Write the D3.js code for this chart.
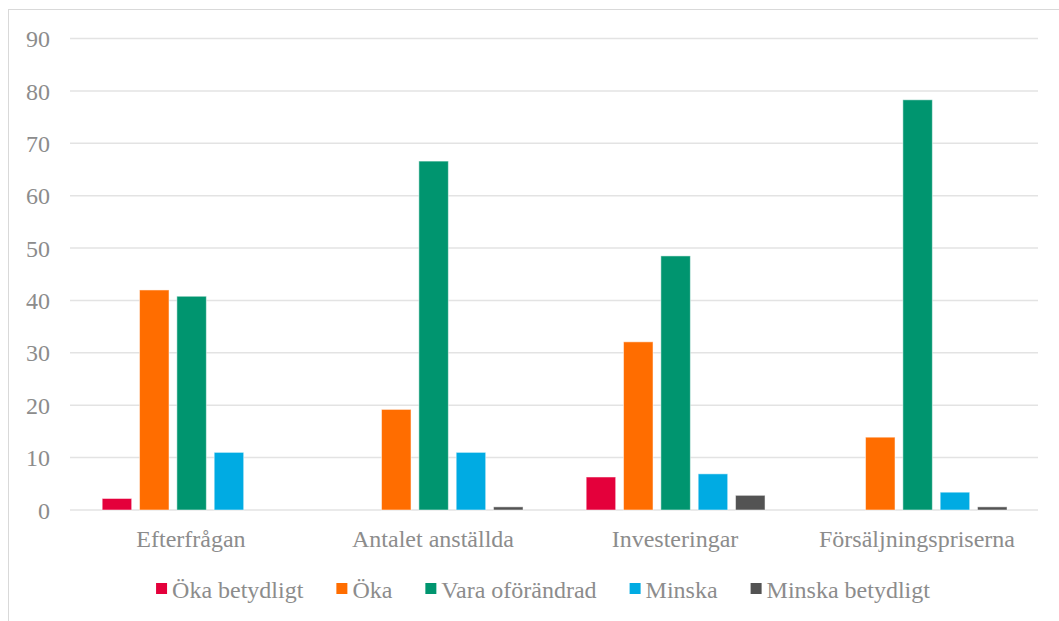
<!DOCTYPE html>
<html>
<head>
<meta charset="utf-8">
<script src="https://cdn.jsdelivr.net/npm/d3@7"></script>
<style>
  body { margin: 0; background: #fff; }
  text { font-family: "Liberation Serif", "Times New Roman", serif; fill: #8c8c8c; }
</style>
</head>
<body>
<svg id="chart" width="1059" height="621"></svg>
<script>
const categories = ['Efterfrågan', 'Antalet anställda', 'Investeringar', 'Försäljningspriserna'];
const seriesNames = ['Öka betydligt', 'Öka', 'Vara oförändrad', 'Minska', 'Minska betydligt'];
const seriesColors = ['#e4003b', '#ff6d00', '#00956f', '#00abe3', '#535353'];

// one array per series, in category order
const okaBetydligt = [2.2, 0, 6.3, 0];
const oka = [42.0, 19.2, 32.1, 13.9];
const oforandrad = [40.8, 66.6, 48.5, 78.3];
const minska = [11.0, 11.0, 6.9, 3.4];
const minskaBetydligt = [0, 0.6, 2.8, 0.6];
const seriesValues = [okaBetydligt, oka, oforandrad, minska, minskaBetydligt];

const yTicks = [0, 10, 20, 30, 40, 50, 60, 70, 80, 90];

const svg = d3.select('#chart');

// outer frame (only left and top edges are visible in the picture)
svg.append('rect')
  .attr('x', 8.5).attr('y', 9.5)
  .attr('width', 1100).attr('height', 700)
  .attr('fill', 'none')
  .attr('stroke', '#d9d9d9')
  .attr('stroke-width', 1);

const plot = { left: 70, right: 1038, top: 38.5, bottom: 510 };

const y = d3.scaleLinear().domain([0, 90]).range([plot.bottom, plot.top]);

const x0 = d3.scaleBand().domain(categories).range([plot.left, plot.right]).padding(0);
const bw = x0.bandwidth();
const x1 = d3.scaleBand().domain(seriesNames)
  .range([bw * 0.133, bw * 0.872])
  .paddingInner(0.21).paddingOuter(0);

// gridlines
svg.append('g')
  .selectAll('line')
  .data(yTicks)
  .enter()
  .append('line')
  .attr('x1', plot.left).attr('x2', plot.right)
  .attr('y1', d => y(d)).attr('y2', d => y(d))
  .attr('stroke', '#e3e3e3')
  .attr('stroke-width', 1.5);

// y tick labels
svg.append('g')
  .selectAll('text')
  .data(yTicks)
  .enter()
  .append('text')
  .attr('x', 50)
  .attr('y', d => y(d))
  .attr('dy', '0.36em')
  .attr('text-anchor', 'end')
  .style('font-size', '24px')
  .text(d => d);

// bars
const groups = svg.append('g')
  .selectAll('g')
  .data(categories)
  .enter()
  .append('g')
  .attr('transform', d => 'translate(' + x0(d) + ',0)');

groups.selectAll('rect')
  .data((cat, ci) => seriesNames.map((name, si) => ({ name: name, value: seriesValues[si][ci], color: seriesColors[si] })))
  .enter()
  .filter(d => d.value > 0)
  .append('rect')
  .attr('x', d => x1(d.name))
  .attr('width', x1.bandwidth())
  .attr('y', d => y(d.value))
  .attr('height', d => y(0) - y(d.value))
  .attr('fill', d => d.color)
  .attr('stroke', '#ffffff')
  .attr('stroke-opacity', 0.5)
  .attr('stroke-width', 1);

// category labels
svg.append('g')
  .selectAll('text')
  .data(categories)
  .enter()
  .append('text')
  .attr('x', d => x0(d) + bw / 2)
  .attr('y', 547)
  .attr('text-anchor', 'middle')
  .style('font-size', '24px')
  .text(d => d);

// legend
const legend = svg.append('g');
const items = legend.selectAll('g')
  .data(seriesNames)
  .enter()
  .append('g');
items.append('rect')
  .attr('width', 11).attr('height', 11)
  .attr('y', 583)
  .attr('fill', (d, i) => seriesColors[i]);
items.append('text')
  .attr('x', 16)
  .attr('y', 598)
  .style('font-size', '24px')
  .text(d => d);

let offset = 0;
const widths = [];
items.each(function () {
  widths.push(d3.select(this).select('text').node().getComputedTextLength() + 16);
});
const gap = 33;
const total = d3.sum(widths) + gap * (widths.length - 1);
offset = 543 - total / 2;
items.attr('transform', (d, i) => {
  const t = 'translate(' + offset + ',0)';
  offset += widths[i] + gap;
  return t;
});
</script>
</body>
</html>
